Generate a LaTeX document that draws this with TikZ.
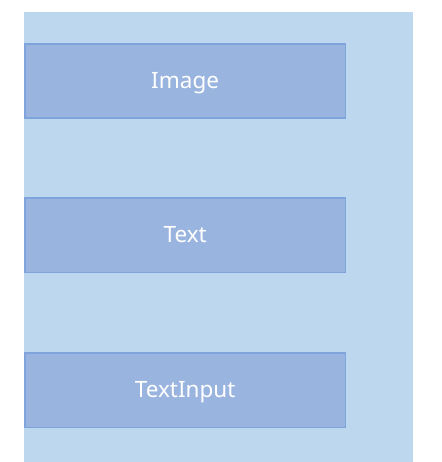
\documentclass[tikz,border=0pt]{standalone}
\usepackage{fontspec}
\setmainfont{Noto Sans}
\definecolor{fondo}{HTML}{BDD7EE}
\definecolor{caja}{HTML}{9AB4E0}
\definecolor{borde}{HTML}{7FA3DB}
\begin{document}
\begin{tikzpicture}[
    x=1pt, y=-1pt,
    font=\fontsize{22.5}{27}\selectfont,
    comp/.style={rectangle, fill=caja, draw=borde, line width=1.8pt, text=white,
                 text height=15pt, text depth=1pt,
                 minimum width=320.5pt, minimum height=74.5pt, inner sep=0, anchor=north west}
]

% ============================================
% MARCO DE LA PÁGINA
% ============================================
\useasboundingbox (0,0) rectangle (441,462);

% Contenedor (columna)
\fill[fondo] (24,12) rectangle (413,462);

% ============================================
% COMPONENTES
% ============================================
\node[comp] (image) at (24,43) {Image};
\node[comp] (text) at (24,197) {Text};
\node[comp] (textinput) at (24,352) {TextInput};

\end{tikzpicture}
\end{document}
